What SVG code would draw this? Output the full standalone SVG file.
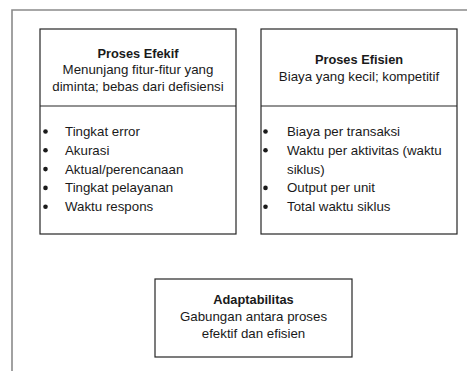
<svg xmlns="http://www.w3.org/2000/svg" width="467" height="371" viewBox="0 0 467 371">
<style>
text{font-family:"Liberation Sans",Arial,sans-serif;fill:#1a1a1a;font-size:13.3px}
.b{font-weight:bold;font-size:12.8px}
.c{text-anchor:middle}
.box{fill:#fff;stroke:#262626;stroke-width:1.2}
.frame{fill:none;stroke:#8a8a8a;stroke-width:1.6}
.dot{fill:#1a1a1a}
</style>
<rect width="467" height="371" fill="#fff"/>
<g id="frame">
<path class="frame" d="M12,371 V10 H467"/>
</g>
<g id="proses-efektif">
<rect class="box" x="40" y="29" width="196" height="205"/>
<line x1="40" y1="106" x2="236" y2="106" stroke="#262626" stroke-width="1.2"/>
<text class="b c" x="138" y="57.5">Proses Efekif</text>
<text class="c" x="138" y="74">Menunjang fitur-fitur yang</text>
<text class="c" x="138" y="90.5">diminta; bebas dari defisiensi</text>
<g>
<circle class="dot" cx="45.5" cy="131.5" r="2.3"/><text x="65" y="136">Tingkat error</text>
<circle class="dot" cx="45.5" cy="150.3" r="2.3"/><text x="65" y="154.8">Akurasi</text>
<circle class="dot" cx="45.5" cy="169.1" r="2.3"/><text x="65" y="173.6">Aktual/perencanaan</text>
<circle class="dot" cx="45.5" cy="187.9" r="2.3"/><text x="65" y="192.4">Tingkat pelayanan</text>
<circle class="dot" cx="45.5" cy="206.7" r="2.3"/><text x="65" y="211.2">Waktu respons</text>
</g>
</g>
<g id="proses-efisien">
<rect class="box" x="261" y="29" width="196" height="205"/>
<line x1="261" y1="106" x2="457" y2="106" stroke="#262626" stroke-width="1.2"/>
<text class="b c" x="359" y="64">Proses Efisien</text>
<text class="c" x="359" y="80.5">Biaya yang kecil; kompetitif</text>
<g>
<circle class="dot" cx="265.5" cy="131.5" r="2.3"/><text x="287" y="136">Biaya per transaksi</text>
<circle class="dot" cx="265.5" cy="150.3" r="2.3"/><text x="287" y="154.8">Waktu per aktivitas (waktu</text>
<text x="287" y="173.6">siklus)</text>
<circle class="dot" cx="265.5" cy="187.9" r="2.3"/><text x="287" y="192.4">Output per unit</text>
<circle class="dot" cx="265.5" cy="206.7" r="2.3"/><text x="287" y="211.2">Total waktu siklus</text>
</g>
</g>
<g id="adaptabilitas">
<rect class="box" x="155" y="279" width="197" height="78"/>
<text class="b c" x="253.5" y="304">Adaptabilitas</text>
<text class="c" x="253.5" y="321">Gabungan antara proses</text>
<text class="c" x="253.5" y="337.7">efektif dan efisien</text>
</g>
<g id="connectors"></g>
</svg>
